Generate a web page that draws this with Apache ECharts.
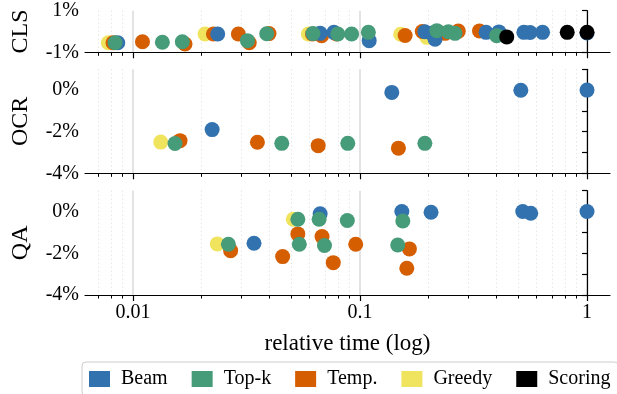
<!DOCTYPE html>
<html>
<head>
<meta charset="utf-8">
<script src="https://cdn.jsdelivr.net/npm/echarts@6/dist/echarts.min.js"></script>
<style>html,body{margin:0;padding:0;background:#fff}#c{width:617px;height:394px}</style>
</head>
<body>
<div id="c"></div>
<script>
// ---- data (relative time, accuracy change in %) ----
const methods = ['Beam', 'Top-k', 'Temp.', 'Greedy', 'Scoring'];
const panels = ['CLS', 'OCR', 'QA'];
const xMajorTicks = [0.01, 0.1, 1];
const xTickLabels = ['0.01', '0.1', '1'];
const xMinorTicks = [0.007, 0.008, 0.009, 0.02, 0.03, 0.04, 0.05, 0.06, 0.07, 0.08, 0.09, 0.2, 0.3, 0.4, 0.5, 0.6, 0.7, 0.8, 0.9];
const xRange = [0.00614, 1.2626];

const clsBeam = [[0.00856,-0.54],[0.0236,-0.12],[0.0667,-0.09],[0.0767,-0.04],[0.1097,-0.44],[0.193,-0.01],[0.207,-0.09],[0.214,-0.37],[0.359,-0.04],[0.409,-0.02],[0.527,-0.04],[0.561,-0.05],[0.637,-0.04],[1.0,-0.07]];
const clsTopk = [[0.00833,-0.54],[0.01346,-0.52],[0.01648,-0.49],[0.0319,-0.44],[0.0388,-0.11],[0.062,-0.1],[0.0798,-0.12],[0.0918,-0.12],[0.1088,-0.04],[0.218,0.04],[0.245,-0.01],[0.262,-0.09],[0.400,-0.2]];
const clsTemp = [[0.00816,-0.54],[0.011,-0.49],[0.01694,-0.6],[0.0226,-0.12],[0.0291,-0.12],[0.0325,-0.54],[0.0397,-0.1],[0.0617,-0.12],[0.0677,-0.2],[0.0788,-0.12],[0.158,-0.19],[0.188,0],[0.237,-0.09],[0.271,0.02],[0.336,0.03]];
const clsGreedy = [[0.00778,-0.54],[0.02075,-0.12],[0.0592,-0.12],[0.151,-0.13],[0.197,-0.28]];
const clsScoring = [[0.443,-0.26],[0.818,-0.04],[1.0,-0.04]];

const ocrBeam = [[0.0223,-1.90],[0.138,-0.11],[0.511,-0.01],[1.0,0]];
const ocrTopk = [[0.0153,-2.57],[0.0452,-2.56],[0.0883,-2.56],[0.193,-2.56]];
const ocrTemp = [[0.0161,-2.43],[0.0353,-2.51],[0.0654,-2.67],[0.1476,-2.79]];
const ocrGreedy = [[0.01324,-2.50]];
const ocrScoring = [];

const qaBeam = [[0.0341,-1.52],[0.0667,-0.11],[0.1528,0],[0.2055,-0.03],[0.521,0],[0.565,-0.08],[1.0,0]];
const qaTopk = [[0.0263,-1.57],[0.0532,-0.37],[0.054,-1.57],[0.066,-0.37],[0.0697,-1.63],[0.0879,-0.43],[0.1466,-1.60],[0.1543,-0.45]];
const qaTemp = [[0.0269,-1.875],[0.0456,-2.16],[0.0532,-1.07],[0.068,-1.20],[0.0762,-2.45],[0.0957,-1.57],[0.165,-1.79],[0.1607,-2.72]];
const qaGreedy = [[0.0235,-1.55],[0.0508,-0.37]];
const qaScoring = [];

// ---- chart ----
const FONT = '"Liberation Serif", "DejaVu Serif", serif';
const colors = {'Beam':'#3272ae','Top-k':'#469b78','Temp.':'#d55e00','Greedy':'#f0e35e','Scoring':'#000000'};
const panelData = [
  {'Beam':clsBeam,'Top-k':clsTopk,'Temp.':clsTemp,'Greedy':clsGreedy,'Scoring':clsScoring},
  {'Beam':ocrBeam,'Top-k':ocrTopk,'Temp.':ocrTemp,'Greedy':ocrGreedy,'Scoring':ocrScoring},
  {'Beam':qaBeam,'Top-k':qaTopk,'Temp.':qaTemp,'Greedy':qaGreedy,'Scoring':qaScoring}
];
const drawOrder = ['Greedy', 'Temp.', 'Beam', 'Top-k', 'Scoring'];
const lg = v => Math.log10(v);
const majorLog = xMajorTicks.map(lg);
const minorLog = xMinorTicks.map(lg);

const grids = [
  {left: 85, right: 7, top: 10.7, height: 41.6},
  {left: 85, right: 7, top: 69.3, height: 104},
  {left: 85, right: 7, top: 190.7, height: 104.3}
];
const xAxes = [], yAxes = [], series = [];
grids.forEach((g, i) => {
  xAxes.push({
    gridIndex: i, type: 'value', position: 'bottom', min: lg(xRange[0]), max: lg(xRange[1]),
    axisLine: {show: true, onZero: false, lineStyle: {color: '#000', width: 1.2}},
    axisTick: {show: true, customValues: majorLog, length: 6, lineStyle: {color: '#000', width: 1.2}},
    axisLabel: {show: i === 2, customValues: majorLog, margin: 8, color: '#000', fontFamily: FONT, fontSize: 20,
      formatter: v => { const k = majorLog.findIndex(m => Math.abs(m - v) < 1e-6); return k >= 0 ? xTickLabels[k] : ''; }},
    splitLine: {show: true, lineStyle: {color: '#dadada', width: 1.5}},
    name: i === 2 ? 'relative time (log)' : '', nameLocation: 'middle', nameGap: 37,
    nameTextStyle: {color: '#000', fontFamily: FONT, fontSize: 23}
  });
  xAxes.push({
    gridIndex: i, type: 'value', position: 'bottom', min: lg(xRange[0]), max: lg(xRange[1]),
    axisLine: {show: false, onZero: false},
    axisTick: {show: true, customValues: minorLog, length: 3.5, lineStyle: {color: '#000', width: 1}},
    axisLabel: {show: false},
    splitLine: {show: true, lineStyle: {color: '#dcdcdc', width: 1, type: [1, 3]}}
  });
  const isCls = i === 0;
  yAxes.push({
    gridIndex: i, type: 'value', min: isCls ? -1 : -4, max: 1, interval: 1,
    axisLine: {show: true, lineStyle: {color: '#000', width: 1.2}},
    axisTick: {show: true, length: 5, lineStyle: {color: '#000', width: 1.2}},
    axisLabel: {margin: 6, color: '#000', fontFamily: FONT, fontSize: 20,
      formatter: v => isCls ? (v === 0 ? '' : v + '%') : ((v <= 0 && v % 2 === 0) ? v + '%' : '')},
    splitLine: {show: false},
    name: panels[i], nameLocation: 'middle', nameRotate: 90, nameGap: 52,
    nameTextStyle: {color: '#000', fontFamily: FONT, fontSize: 24}
  });
  drawOrder.forEach(m => {
    series.push({
      name: m, type: 'scatter', xAxisIndex: i * 2, yAxisIndex: i,
      symbolSize: 15, itemStyle: {color: colors[m], opacity: 1},
      data: panelData[i][m].map(([t, v]) => [lg(t), v])
    });
  });
});

const chart = echarts.init(document.getElementById('c'), null, {renderer: 'canvas'});
chart.setOption({
  animation: false,
  backgroundColor: '#fff',
  grid: grids,
  xAxis: xAxes,
  yAxis: yAxes,
  legend: {
    data: methods, left: 82, top: 362, width: 620, orient: 'horizontal',
    icon: 'rect', itemWidth: 21, itemHeight: 16, itemGap: 24,
    textStyle: {color: '#000', fontFamily: FONT, fontSize: 20, padding: [0, 0, 0, 6]},
    borderColor: '#cccccc', borderWidth: 1, borderRadius: 4, padding: [7, 8, 7, 7]
  },
  series: series
});
</script>
</body>
</html>
